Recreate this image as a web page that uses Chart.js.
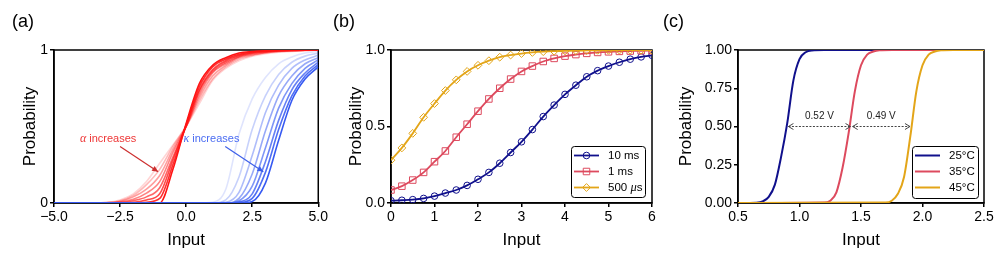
<!DOCTYPE html>
<html lang="en">
<head>
<meta charset="UTF-8">
<title>Switching probability vs input</title>
<script src="https://cdn.jsdelivr.net/npm/chart.js"></script>
<style>
    body {
        margin: 0;
        background: #fff;
        font-family: "Liberation Sans", Arial, sans-serif;
    }
    #wrap {
        position: relative;
        width: 996px;
        height: 262px;
    }
    canvas {
        position: absolute;
        top: 0;
    }
    .tag {
        position: absolute;
        top: 12px;
        font-size: 18px;
        line-height: 18px;
        color: #000;
    }
</style>
</head>
<body>
<div id="wrap">
    <canvas id="chartA" width="330" height="262" style="left:0;width:330px;height:262px"></canvas>
    <canvas id="chartB" width="330" height="262" style="left:330px;width:330px;height:262px"></canvas>
    <canvas id="chartC" width="336" height="262" style="left:660px;width:336px;height:262px"></canvas>
    <div class="tag" style="left:12px">(a)</div>
    <div class="tag" style="left:333px">(b)</div>
    <div class="tag" style="left:663px">(c)</div>
</div>

<script>
// ---- panel (a): alpha / kappa families ----
const xA = [-5, -4.5, -4, -3.5, -3, -2.5, -2, -1.5, -1, -0.5, 0, 0.5, 1, 1.5, 2, 2.5, 3, 3.5, 4, 4.5, 5];

// shallow -> steep (alpha increases)
const alphaCurves = [
    [0, 0, 0, 0, 0.005, 0.02, 0.06, 0.14, 0.26, 0.38, 0.5, 0.65, 0.8, 0.88, 0.93, 0.96, 0.975, 0.985, 0.99, 0.995, 1],
    [0, 0, 0, 0, 0.003, 0.015, 0.05, 0.12, 0.22, 0.37, 0.5, 0.67, 0.81, 0.89, 0.94, 0.965, 0.98, 0.99, 0.993, 0.997, 1],
    [0, 0, 0, 0, 0.002, 0.01, 0.04, 0.09, 0.18, 0.35, 0.5, 0.69, 0.83, 0.9, 0.95, 0.97, 0.983, 0.99, 0.995, 0.998, 1],
    [0, 0, 0, 0, 0, 0.006, 0.025, 0.065, 0.14, 0.33, 0.5, 0.71, 0.85, 0.91, 0.955, 0.975, 0.986, 0.993, 0.996, 0.998, 1],
    [0, 0, 0, 0, 0, 0.003, 0.015, 0.04, 0.1, 0.3, 0.5, 0.73, 0.86, 0.92, 0.96, 0.98, 0.989, 0.995, 0.997, 0.999, 1],
    [0, 0, 0, 0, 0, 0, 0.005, 0.02, 0.06, 0.28, 0.51, 0.74, 0.87, 0.93, 0.965, 0.983, 0.991, 0.996, 0.998, 1, 1],
    [0, 0, 0, 0, 0, 0, 0, 0.005, 0.03, 0.25, 0.51, 0.76, 0.89, 0.94, 0.972, 0.987, 0.993, 0.997, 1, 1, 1],
    [0, 0, 0, 0, 0, 0, 0, 0, 0, 0.22, 0.52, 0.78, 0.9, 0.95, 0.98, 0.99, 0.995, 1, 1, 1, 1]
];

// left -> right (kappa increases)
const kappaCurves = [
    [0, 0, 0, 0, 0, 0, 0, 0, 0, 0, 0, 0, 0.005, 0.09, 0.45, 0.68, 0.82, 0.91, 0.955, 0.98, 0.99],
    [0, 0, 0, 0, 0, 0, 0, 0, 0, 0, 0, 0, 0, 0.02, 0.17, 0.48, 0.7, 0.84, 0.92, 0.96, 0.98],
    [0, 0, 0, 0, 0, 0, 0, 0, 0, 0, 0, 0, 0, 0.005, 0.07, 0.31, 0.59, 0.77, 0.88, 0.935, 0.965],
    [0, 0, 0, 0, 0, 0, 0, 0, 0, 0, 0, 0, 0, 0, 0.03, 0.19, 0.47, 0.7, 0.83, 0.91, 0.95],
    [0, 0, 0, 0, 0, 0, 0, 0, 0, 0, 0, 0, 0, 0, 0.015, 0.11, 0.36, 0.62, 0.78, 0.88, 0.935],
    [0, 0, 0, 0, 0, 0, 0, 0, 0, 0, 0, 0, 0, 0, 0.007, 0.06, 0.27, 0.54, 0.74, 0.85, 0.92],
    [0, 0, 0, 0, 0, 0, 0, 0, 0, 0, 0, 0, 0, 0, 0.003, 0.03, 0.2, 0.48, 0.7, 0.83, 0.905],
    [0, 0, 0, 0, 0, 0, 0, 0, 0, 0, 0, 0, 0, 0, 0, 0.01, 0.13, 0.41, 0.67, 0.81, 0.89]
];

const noteText = ['α increases', 'κ increases'];
const noteX = [-4.02, -0.1];
const noteY = [0.42, 0.42];
const noteArrowFrom = [[-2.5, 0.37], [1.48, 0.37]];
const noteArrowTo = [[-1.06, 0.205], [2.92, 0.205]];

// ---- panel (b): pulse widths ----
const xB = [0, 0.25, 0.5, 0.75, 1, 1.25, 1.5, 1.75, 2, 2.25, 2.5, 2.75, 3, 3.25, 3.5, 3.75, 4, 4.25, 4.5, 4.75, 5, 5.25, 5.5, 5.75, 6];
const p10ms = [0.015, 0.018, 0.022, 0.03, 0.045, 0.065, 0.085, 0.115, 0.155, 0.2, 0.26, 0.33, 0.4, 0.48, 0.565, 0.64, 0.71, 0.77, 0.825, 0.865, 0.895, 0.92, 0.94, 0.955, 0.965];
const p1ms = [0.085, 0.11, 0.15, 0.2, 0.27, 0.34, 0.43, 0.515, 0.6, 0.68, 0.75, 0.81, 0.86, 0.895, 0.925, 0.945, 0.96, 0.97, 0.978, 0.984, 0.988, 0.991, 0.993, 0.995, 0.996];
const p500us = [0.28, 0.36, 0.455, 0.56, 0.65, 0.735, 0.805, 0.86, 0.9, 0.93, 0.953, 0.967, 0.977, 0.984, 0.989, 0.992, 0.994, 0.996, 0.997, 0.998, 0.998, 0.999, 0.999, 0.999, 0.999];
const labelsB = ['10 ms', '1 ms', '500 μs'];

// ---- panel (c): temperatures ----
const x25 = [0.5, 0.65, 0.7, 0.75, 0.8, 0.85, 0.9, 0.95, 1.0, 1.05, 1.1, 1.2, 2.5];
const y25 = [0, 0.002, 0.01, 0.04, 0.12, 0.3, 0.52, 0.8, 0.94, 0.985, 0.997, 1, 1];
const x35 = [0.5, 1.2, 1.25, 1.3, 1.35, 1.4, 1.45, 1.5, 1.55, 1.6, 1.65, 1.75, 2.5];
const y35 = [0, 0.003, 0.015, 0.07, 0.23, 0.46, 0.73, 0.9, 0.97, 0.99, 0.998, 1, 1];
const x45 = [0.5, 1.7, 1.75, 1.8, 1.85, 1.9, 1.95, 2.0, 2.05, 2.1, 2.15, 2.25, 2.5];
const y45 = [0, 0.003, 0.015, 0.06, 0.17, 0.43, 0.73, 0.9, 0.97, 0.99, 0.998, 1, 1];
const labelsC = ['25°C', '35°C', '45°C'];

const gapFrom = [0.91, 1.432];
const gapTo = [1.415, 1.898];
const gapText = ['0.52 V', '0.49 V'];
const gapY = 0.5;
const gapTextY = 0.565;

const NAVY = '#10108c', ROSE = '#dd4a5e', GOLD = '#e3a518';
const SANS = '"Liberation Sans", Arial, sans-serif';

Chart.defaults.font.family = SANS;
Chart.defaults.color = '#000';

const pts = (xs, ys) => xs.map((x, i) => ({x: x, y: ys[i]}));

// greek letters in italic serif, the rest in sans
function drawRich(ctx, text, x, y, size) {
    let cx = x;
    for (const part of text.split(/([ακμ])/)) {
        if (!part) continue;
        ctx.font = /[ακμ]/.test(part) ? `italic ${size + 1}px "Liberation Serif", serif` : `${size}px ${SANS}`;
        ctx.fillText(part, cx, y);
        cx += ctx.measureText(part).width;
    }
}

function makeScales(o) {
    return {
        x: {
            type: 'linear', min: o.xMin, max: o.xMax,
            afterFit: s => { s.height = 59; },
            border: {display: true, color: '#000', width: 1.5},
            grid: {drawOnChartArea: false, tickLength: 4, color: '#000', lineWidth: 1.5},
            ticks: {stepSize: o.xStep, padding: 2, font: {size: 14}, maxRotation: 0, autoSkip: false, callback: o.xFmt},
            title: {display: true, text: 'Input', font: {size: 17}, padding: {top: 0, bottom: 11}}
        },
        y: {
            type: 'linear', min: 0, max: 1,
            afterFit: s => { s.width = o.yWidth; },
            border: {display: true, color: '#000', width: 1.5},
            grid: {drawOnChartArea: false, tickLength: 4, color: '#000', lineWidth: 1.5},
            ticks: {stepSize: o.yStep, padding: 2, font: {size: 14}, autoSkip: false, callback: o.yFmt},
            title: {display: true, text: 'Probability', font: {size: 17}, padding: {top: o.yTitlePad, bottom: 0}}
        }
    };
}

const framePlugin = {
    id: 'frame',
    beforeDatasetsDraw(chart) {
        const {ctx, chartArea: a} = chart;
        ctx.save();
        ctx.strokeStyle = '#000';
        ctx.lineWidth = 1.5;
        ctx.strokeRect(a.left, a.top, a.right - a.left, a.bottom - a.top);
        ctx.restore();
    }
};

function marker(ctx, style, x, y, r, color) {
    ctx.save();
    ctx.strokeStyle = color;
    ctx.lineWidth = 1;
    ctx.beginPath();
    if (style === 'circle') {
        ctx.arc(x, y, r, 0, Math.PI * 2);
    } else if (style === 'rect') {
        const s = r * Math.SQRT1_2;
        ctx.rect(x - s, y - s, 2 * s, 2 * s);
    } else {
        ctx.moveTo(x - r, y); ctx.lineTo(x, y - r); ctx.lineTo(x + r, y); ctx.lineTo(x, y + r); ctx.closePath();
    }
    ctx.stroke();
    ctx.restore();
}

const boxLegend = {
    id: 'boxLegend',
    afterDatasetsDraw(chart, args, opts) {
        const {ctx, chartArea: a} = chart;
        const left = a.right - opts.marginR - opts.w;
        const top = a.bottom - opts.marginB - opts.h;
        ctx.save();
        ctx.fillStyle = '#fff';
        ctx.strokeStyle = '#000';
        ctx.lineWidth = 1;
        ctx.beginPath();
        ctx.roundRect(left + 0.5, top + 0.5, opts.w, opts.h, 3);
        ctx.fill();
        ctx.stroke();
        chart.data.datasets.forEach((ds, i) => {
            const y = top + 9.5 + i * 16;
            ctx.strokeStyle = ds.borderColor;
            ctx.lineWidth = ds.borderWidth;
            ctx.beginPath();
            ctx.moveTo(left + 3, y);
            ctx.lineTo(left + 28, y);
            ctx.stroke();
            if (ds.pointRadius > 0) marker(ctx, ds.pointStyle, left + 15.5, y, ds.pointRadius, ds.borderColor);
            ctx.fillStyle = '#000';
            ctx.textBaseline = 'middle';
            ctx.textAlign = 'left';
            drawRich(ctx, ds.label, left + 37, y, 11.5);
        });
        ctx.restore();
    }
};

function arrowHead(ctx, x1, y1, x2, y2, len, half, fill) {
    const ang = Math.atan2(y2 - y1, x2 - x1);
    ctx.beginPath();
    ctx.moveTo(x2 - len * Math.cos(ang) + half * Math.sin(ang), y2 - len * Math.sin(ang) - half * Math.cos(ang));
    ctx.lineTo(x2, y2);
    ctx.lineTo(x2 - len * Math.cos(ang) - half * Math.sin(ang), y2 - len * Math.sin(ang) + half * Math.cos(ang));
    if (fill) { ctx.closePath(); ctx.fill(); } else { ctx.stroke(); }
}

const notesA = {
    id: 'notesA',
    afterDatasetsDraw(chart) {
        const {ctx, scales: {x, y}} = chart;
        const textCol = ['#ee3636', '#4a6cf2'];
        const arrowCol = ['#cc2e2e', '#3c5ee8'];
        ctx.save();
        noteText.forEach((t, i) => {
            ctx.fillStyle = textCol[i];
            ctx.textBaseline = 'middle';
            ctx.textAlign = 'left';
            drawRich(ctx, t, x.getPixelForValue(noteX[i]), y.getPixelForValue(noteY[i]), 11);
            const x1 = x.getPixelForValue(noteArrowFrom[i][0]), y1 = y.getPixelForValue(noteArrowFrom[i][1]);
            const x2 = x.getPixelForValue(noteArrowTo[i][0]), y2 = y.getPixelForValue(noteArrowTo[i][1]);
            ctx.strokeStyle = arrowCol[i];
            ctx.fillStyle = arrowCol[i];
            ctx.lineWidth = 1.2;
            ctx.beginPath();
            ctx.moveTo(x1, y1);
            ctx.lineTo(x2, y2);
            ctx.stroke();
            arrowHead(ctx, x1, y1, x2, y2, 6, 2.8, true);
        });
        ctx.restore();
    }
};

const gapsC = {
    id: 'gapsC',
    afterDatasetsDraw(chart) {
        const {ctx, scales: {x, y}} = chart;
        ctx.save();
        const py = y.getPixelForValue(gapY);
        gapText.forEach((t, i) => {
            const x1 = x.getPixelForValue(gapFrom[i]), x2 = x.getPixelForValue(gapTo[i]);
            ctx.strokeStyle = '#444';
            ctx.lineWidth = 1;
            ctx.setLineDash([2, 1.5]);
            ctx.beginPath();
            ctx.moveTo(x1, py);
            ctx.lineTo(x2, py);
            ctx.stroke();
            ctx.setLineDash([]);
            arrowHead(ctx, x2, py, x1, py, 5, 3, false);
            arrowHead(ctx, x1, py, x2, py, 5, 3, false);
            ctx.fillStyle = '#222';
            ctx.font = `10px ${SANS}`;
            ctx.textAlign = 'center';
            ctx.textBaseline = 'middle';
            ctx.fillText(t, (x1 + x2) / 2, y.getPixelForValue(gapTextY));
        });
        ctx.restore();
    }
};

const baseOpts = (pad, scales, extra) => ({
    responsive: false,
    devicePixelRatio: 1,
    animation: false,
    layout: {padding: pad},
    scales: scales,
    plugins: Object.assign({legend: {display: false}, tooltip: {enabled: false}}, extra || {})
});

const fmtSigned1 = v => (v < 0 ? '\u2212' : '') + Math.abs(v).toFixed(1);

// (a) -- lower "order" is painted later, so saturated curves and the blue family go on top
const dsA = [];
alphaCurves.forEach((c, i) => {
    const a = 0.18 + 0.82 * i / (alphaCurves.length - 1);
    dsA.push({data: pts(xA, c), borderColor: `rgba(255,20,20,${a.toFixed(3)})`, borderWidth: 1.6, pointRadius: 0,
        cubicInterpolationMode: 'monotone', order: 8 + (alphaCurves.length - 1 - i)});
});
kappaCurves.forEach((c, i) => {
    const a = 0.16 + 0.84 * i / (kappaCurves.length - 1);
    dsA.push({data: pts(xA, c), borderColor: `rgba(55,90,242,${a.toFixed(3)})`, borderWidth: 1.6, pointRadius: 0,
        cubicInterpolationMode: 'monotone', order: kappaCurves.length - 1 - i});
});

new Chart(document.getElementById('chartA'), {
    type: 'line',
    data: {datasets: dsA},
    options: baseOpts({left: 0, right: 11, top: 50, bottom: 0},
        makeScales({xMin: -5, xMax: 5, xStep: 2.5, yStep: 1, yWidth: 54, yTitlePad: 20,
            xFmt: fmtSigned1, yFmt: v => String(v)})),
    plugins: [framePlugin, notesA]
});

// (b)
const markerOpts = {pointBackgroundColor: 'rgba(0,0,0,0)', pointBorderWidth: 1, borderWidth: 1.8, cubicInterpolationMode: 'monotone'};
new Chart(document.getElementById('chartB'), {
    type: 'line',
    data: {
        datasets: [
            Object.assign({label: labelsB[0], data: pts(xB, p10ms), borderColor: NAVY, pointBorderColor: NAVY, pointStyle: 'circle', pointRadius: 3.3, order: 2}, markerOpts),
            Object.assign({label: labelsB[1], data: pts(xB, p1ms), borderColor: ROSE, pointBorderColor: ROSE, pointStyle: 'rect', pointRadius: 4.6, order: 1}, markerOpts),
            Object.assign({label: labelsB[2], data: pts(xB, p500us), borderColor: GOLD, pointBorderColor: GOLD, pointStyle: 'rectRot', pointRadius: 3.9, order: 0}, markerOpts)
        ]
    },
    options: baseOpts({left: 0, right: 8, top: 50, bottom: 0},
        makeScales({xMin: 0, xMax: 6, xStep: 1, yStep: 0.5, yWidth: 61, yTitlePad: 16,
            xFmt: v => String(v), yFmt: v => v.toFixed(1)}),
        {boxLegend: {w: 74, h: 51, marginR: 7, marginB: 6}}),
    plugins: [framePlugin, boxLegend]
});

// (c)
new Chart(document.getElementById('chartC'), {
    type: 'line',
    data: {
        datasets: [
            {label: labelsC[0], data: pts(x25, y25), borderColor: NAVY, borderWidth: 2, pointRadius: 0, cubicInterpolationMode: 'monotone', order: 2},
            {label: labelsC[1], data: pts(x35, y35), borderColor: ROSE, borderWidth: 2, pointRadius: 0, cubicInterpolationMode: 'monotone', order: 1},
            {label: labelsC[2], data: pts(x45, y45), borderColor: GOLD, borderWidth: 2, pointRadius: 0, cubicInterpolationMode: 'monotone', order: 0}
        ]
    },
    options: baseOpts({left: 0, right: 12, top: 50, bottom: 0},
        makeScales({xMin: 0.5, xMax: 2.5, xStep: 0.5, yStep: 0.25, yWidth: 78, yTitlePad: 16,
            xFmt: v => v.toFixed(1), yFmt: v => v.toFixed(2)}),
        {boxLegend: {w: 66, h: 52, marginR: 6, marginB: 5}}),
    plugins: [framePlugin, gapsC, boxLegend]
});
</script>
</body>
</html>
